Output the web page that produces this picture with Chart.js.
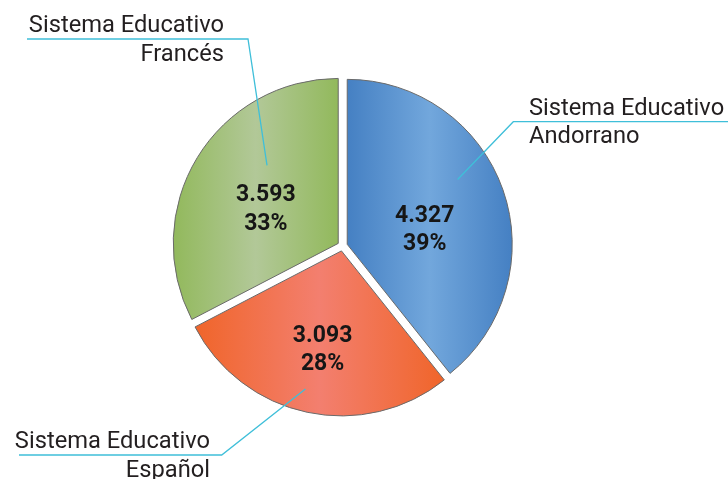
<!DOCTYPE html>
<html><head><meta charset="utf-8">
<script src="https://cdn.jsdelivr.net/npm/chart.js@4.4.1/dist/chart.umd.min.js"></script>
<style>html,body{margin:0;padding:0;background:#fff;}#wrap{width:728px;height:479px;position:relative;}</style>
</head><body><div id="wrap"><canvas id="c" width="728" height="479"></canvas></div>
<script>
// ---- data ----
const categories = ['Sistema Educativo Andorrano', 'Sistema Educativo Español', 'Sistema Educativo Francés'];
const labelLines = [['Sistema Educativo', 'Andorrano'], ['Sistema Educativo', 'Español'], ['Sistema Educativo', 'Francés']];
const values = [4327, 3093, 3593];
const percentLabels = ['39%', '28%', '33%'];

// ---- styles ----
const gradColors = [
  ['#4580c3', '#72a7dc'],   // [edge, centre]
  ['#f0652a', '#f37f6f'],
  ['#92b95c', '#b2c898']
];
const EXPLODE = 5;
const leaderColor = '#3fbfd9';
const textFont = '23.7px Roboto';
const valueFont = 'bold 23px Roboto';

// value label placement: fraction of slice angle, fraction of radius
const valuePos = [{a: 0.552, r: 0.48}, {a: 0.49, r: 0.60}, {a: 0.459, r: 0.49}];
// callouts: anchor inside slice (angle fraction, radius fraction), elbow, line end, text
const callouts = [
  {a: 0.421, r: 0.776, elbow: [513.3, 121.7], endX: 728, textX: 529, align: 'left'},
  {a: 0.526, r: 0.865, elbow: [221.7, 455], endX: 19, textX: 210, align: 'right'},
  {a: 0.639, r: 0.64, elbow: [248, 39], endX: 27, textX: 224, align: 'right'}
];

function fmt(v) { return String(v).replace(/\B(?=(\d{3})+(?!\d))/g, '.'); }

function sliceAngles(i) {
  const total = values.reduce((s, v) => s + v, 0);
  let cum = 0;
  for (let k = 0; k < i; k++) cum += values[k];
  const s = -Math.PI / 2 + 2 * Math.PI * cum / total;
  const e = s + 2 * Math.PI * values[i] / total;
  return [s, e];
}

function bgColor(ctx) {
  const chart = ctx.chart;
  const area = chart.chartArea;
  const i = ctx.dataIndex;
  const cols = gradColors[i];
  if (!area) return cols[0];
  const ctrl = chart.getDatasetMeta(0).controller;
  const r = ctrl.outerRadius || (Math.min(area.right - area.left, area.bottom - area.top) - 1) / 2;
  const cx = (area.left + area.right) / 2;
  const [s, e] = sliceAngles(i);
  let xmin = 0, xmax = 0;
  for (let k = 0; k <= 200; k++) {
    const t = s + (e - s) * k / 200;
    const x = Math.cos(t) * r;
    xmin = Math.min(xmin, x); xmax = Math.max(xmax, x);
  }
  const g = chart.ctx.createLinearGradient(cx + xmin, 0, cx + xmax, 0);
  g.addColorStop(0, cols[0]);
  g.addColorStop(0.5, cols[1]);
  g.addColorStop(1, cols[0]);
  return g;
}

const explodePlugin = {
  id: 'explode',
  beforeDatasetsDraw(chart) {
    const ctx = chart.ctx;
    const meta = chart.getDatasetMeta(0);
    meta.data.forEach(el => {
      const mid = (el.startAngle + el.endAngle) / 2;
      ctx.save();
      ctx.translate(Math.cos(mid) * EXPLODE, Math.sin(mid) * EXPLODE);
      el.draw(ctx);
      ctx.restore();
    });
    return false;
  },
  afterDraw(chart) {
    const ctx = chart.ctx;
    const meta = chart.getDatasetMeta(0);
    meta.data.forEach((el, i) => {
      const mid = (el.startAngle + el.endAngle) / 2;
      const ox = el.x + Math.cos(mid) * EXPLODE;
      const oy = el.y + Math.sin(mid) * EXPLODE;
      const R = el.outerRadius;
      // leader line
      const c = callouts[i];
      const ta = el.startAngle + (el.endAngle - el.startAngle) * c.a;
      const ax = ox + Math.cos(ta) * R * c.r;
      const ay = oy + Math.sin(ta) * R * c.r;
      ctx.save();
      ctx.strokeStyle = leaderColor;
      ctx.lineWidth = 1.3;
      ctx.beginPath();
      ctx.moveTo(ax, ay);
      ctx.lineTo(c.elbow[0], c.elbow[1]);
      ctx.lineTo(c.endX, c.elbow[1]);
      ctx.stroke();
      ctx.fillStyle = '#231f20';
      ctx.font = textFont;
      ctx.textAlign = c.align;
      ctx.textBaseline = 'alphabetic';
      ctx.fillText(labelLines[i][0], c.textX, c.elbow[1] - 7);
      ctx.fillText(labelLines[i][1], c.textX, c.elbow[1] + 21.5);
      // value labels
      const p = valuePos[i];
      const va = el.startAngle + (el.endAngle - el.startAngle) * p.a;
      const vx = ox + Math.cos(va) * R * p.r;
      const vy = oy + Math.sin(va) * R * p.r;
      ctx.fillStyle = '#161616';
      ctx.font = valueFont;
      ctx.textAlign = 'center';
      const cap = 23 * 0.711;
      ctx.fillText(fmt(values[i]), vx, vy - 14.2 + cap / 2);
      ctx.fillText(percentLabels[i], vx, vy + 14.2 + cap / 2);
      ctx.restore();
    });
  }
};

new Chart(document.getElementById('c'), {
  type: 'pie',
  data: {
    labels: categories,
    datasets: [{
      data: values,
      backgroundColor: bgColor,
      borderColor: '#6a6a6a',
      borderWidth: 1,
      hoverOffset: 0,
      offset: 0
    }]
  },
  options: {
    responsive: false,
    animation: false,
    events: [],
    layout: {padding: {left: 177, right: 220, top: 80.5, bottom: 67.5}},
    plugins: {legend: {display: false}, tooltip: {enabled: false}}
  },
  plugins: [explodePlugin]
});
</script>
</body></html>
